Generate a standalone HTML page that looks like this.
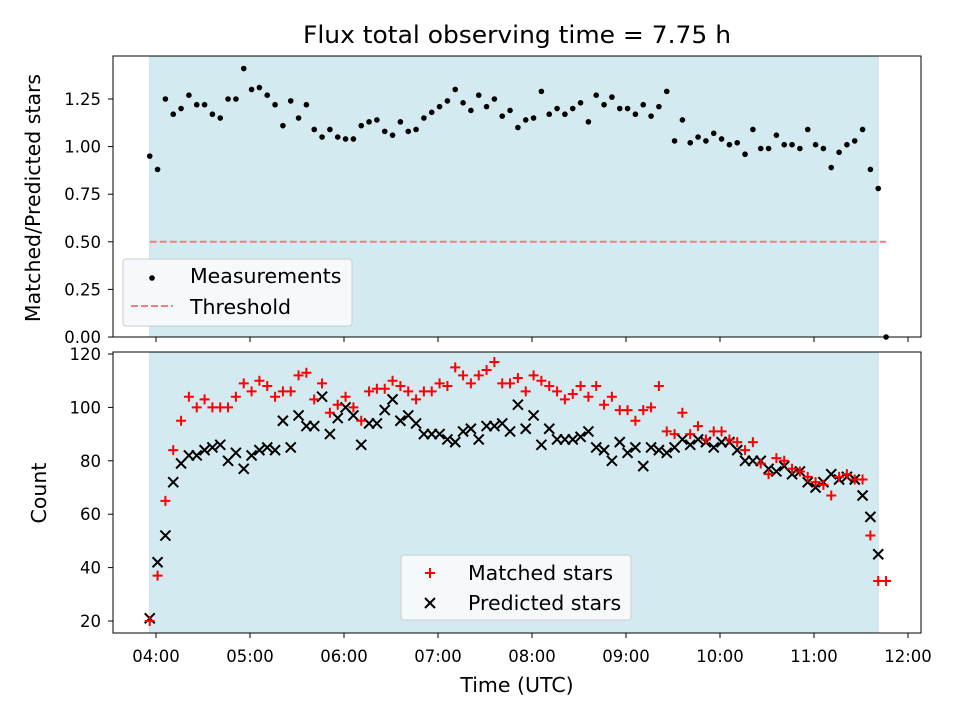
<!DOCTYPE html>
<html><head><meta charset="utf-8"><style>
body{margin:0;background:#fff;}
svg{display:block;font-family:"DejaVu Sans","Liberation Sans",sans-serif;}
</style></head><body>
<svg id="chart" width="960" height="720" viewBox="0 0 960 720">
<text x="517" y="43" font-size="24" text-anchor="middle" textLength="428" lengthAdjust="spacingAndGlyphs">Flux total observing time = 7.75 h</text>
<g id="top"></g><g id="bot"></g>
</svg>
<script>
// time of each sample, minutes after 04:00 (5-minute cadence starting 03:56)
const startMinutes = -4;
const stepMinutes = 5;
const ratioValues = [0.95,0.88,1.25,1.17,1.20,1.27,1.22,1.22,1.17,1.15,1.25,1.25,1.41,1.30,1.31,1.27,1.22,1.11,1.24,1.15,1.22,1.09,1.05,1.09,1.05,1.04,1.04,1.11,1.13,1.14,1.08,1.06,1.13,1.08,1.09,1.15,1.18,1.21,1.24,1.30,1.23,1.19,1.27,1.21,1.25,1.16,1.19,1.10,1.14,1.15,1.29,
1.17,1.20,1.17,1.20,1.23,1.13,1.27,1.22,1.26,1.20,1.20,1.17,1.22,1.16,1.21,1.29,1.03,1.14,1.02,1.05,1.03,1.07,1.04,1.01,1.02,0.96,1.09,0.99,0.99,1.06,1.01,1.01,0.99,1.09,1.01,0.99,0.89,0.97,1.01,1.03,1.09,0.88,0.78,0.00];
const matchedValues = [20,37,65,84,95,104,100,103,100,100,100,104,109,106,110,108,104,106,106,112,113,103,109,98,101,104,100,95,106,107,107,110,108,106,103,106,106,109,108,115,112,109,112,114,117,109,109,111,106,112,110,108,106,103,105,108,104,108,101,104,99,99,95,99,100,108,91,90,98,90,93,88,91,91,88,87,84,87,79,75,81,80,77,76,74,72,71,67,74,75,73,73,52,35,35];
const predictedValues = [21,42,52,72,79,82,82,84,85,86,80,83,77,82,84,85,84,95,85,97,93,93,104,90,96,100,97,86,94,94,99,103,95,97,94,90,90,90,88,87,91,92,88,93,93,94,91,101,92,97,86,92,88,88,88,89,91,85,84,80,87,83,85,78,85,84,83,85,88,86,88,87,85,87,87,84,80,80,80,77,76,78,75,76,72,70,72,75,73,74,73,67,59,45];
const ratioTicks = [0,0.25,0.5,0.75,1.0,1.25];
const countTicks = [20,40,60,80,100,120];
const timeTickLabels = ["04:00","05:00","06:00","07:00","08:00","09:00","10:00","11:00","12:00"];
const thresholdValue = 0.5;

const NS="http://www.w3.org/2000/svg";
const svg=document.getElementById('chart');
function mk(tag,attrs,parent){const e=document.createElementNS(NS,tag);for(const k in attrs)e.setAttribute(k,attrs[k]);(parent||svg).appendChild(e);return e;}
const L=113,R=921;
const TICK=16.5, LAB=20.5;
const xScale=m=>156+m*94/60;
const tTop=56,bTop=337, tBot=352,bBot=633;
const yTop=v=>337-v*190.4;
const yBot=v=>621-(v-20)*2.67;
const tm=i=>startMinutes+i*stepMinutes;
const shadeStart=xScale(startMinutes), shadeEnd=xScale(startMinutes+(ratioValues.length-2)*stepMinutes);

function axes(g,top,bot,name){
  const s=mk('rect',{x:shadeStart,y:top,width:shadeEnd-shadeStart,height:bot-top,fill:'#d4eaf1',stroke:'#c3e0ea','stroke-width':1},g);
  
  
  timeTickLabels.forEach((lab,i)=>{
    const x=xScale(i*60);
    const t=mk('line',{x1:x,x2:x,y1:bot,y2:bot+5,stroke:'#000','stroke-width':1},g);
    
    
  });
}
function frame(g,top,bot,name){
  const f=mk('rect',{x:L,y:top,width:R-L,height:bot-top,fill:'none',stroke:'#000','stroke-width':1},g);
  
  
}
// TOP
const gt=document.getElementById('top');


axes(gt,tTop,bTop,'ratio-panel');
ratioTicks.forEach(v=>{
  const y=yTop(v);
  const l=mk('line',{x1:L-5,x2:L,y1:y,y2:y,stroke:'#000'},gt);
  
  
  const t=mk('text',{x:L-12,y:y+6,'font-size':TICK,'text-anchor':'end'},gt);
  t.textContent=v.toFixed(2);
  
  
});
const th=mk('line',{x1:shadeStart,x2:xScale(tm(ratioValues.length-1)),y1:yTop(thresholdValue),y2:yTop(thresholdValue),stroke:'#f08080','stroke-width':2,'stroke-dasharray':'7,3'},gt);


ratioValues.forEach((v,i)=>{
  const c=mk('circle',{cx:xScale(tm(i)),cy:yTop(v),r:2.8,fill:'#000'},gt);
  
  
});
frame(gt,tTop,bTop,'ratio-panel');
const ylt=mk('text',{transform:'translate(40,198) rotate(-90)','font-size':LAB,'text-anchor':'middle'},gt);
ylt.textContent='Matched/Predicted stars';


// legend top
const lg=mk('g',{},gt);


mk('rect',{x:123,y:259,width:229,height:67,rx:3,fill:'#f6f9fb',stroke:'#ccc','stroke-width':1},lg);
mk('circle',{cx:152,cy:278,r:2.8,fill:'#000'},lg);
mk('line',{x1:131,x2:173,y1:306,y2:306,stroke:'#f08080','stroke-width':2,'stroke-dasharray':'7,3'},lg);
const l1=mk('text',{x:190,y:283,'font-size':LAB},lg);l1.textContent='Measurements';


const l2=mk('text',{x:190,y:314,'font-size':LAB},lg);l2.textContent='Threshold';



// BOTTOM
const gb=document.getElementById('bot');


axes(gb,tBot,bBot,'count-panel');
countTicks.forEach(v=>{
  const y=yBot(v);
  const l=mk('line',{x1:L-5,x2:L,y1:y,y2:y,stroke:'#000'},gb);
  
  
  const t=mk('text',{x:L-12,y:y+6,'font-size':TICK,'text-anchor':'end'},gb);
  t.textContent=v;
  
  
});
timeTickLabels.forEach((lab,i)=>{
  const t=mk('text',{x:xScale(i*60),y:662,'font-size':TICK,'text-anchor':'middle'},gb);
  t.textContent=lab;
  
  
});
function plus(x,y,g,col){const p=mk('path',{d:`M${x-5},${y}H${x+5}M${x},${y-5}V${y+5}`,stroke:col,'stroke-width':2,fill:'none'},g);return p;}
function cross(x,y,g){return mk('path',{d:`M${x-5},${y-5}L${x+5},${y+5}M${x-5},${y+5}L${x+5},${y-5}`,stroke:'#000','stroke-width':2,fill:'none'},g);}
predictedValues.forEach((v,i)=>{
  const p=cross(xScale(tm(i)),yBot(v),gb);
  
  
});
matchedValues.forEach((v,i)=>{
  const p=plus(xScale(tm(i)),yBot(v),gb,'#f00');
  
  
});
frame(gb,tBot,bBot,'count-panel');
const ylb=mk('text',{transform:'translate(46,493) rotate(-90)','font-size':LAB,'text-anchor':'middle'},gb);
ylb.textContent='Count';


const xl=mk('text',{x:517,y:692,'font-size':LAB,'text-anchor':'middle'},gb);
xl.textContent='Time (UTC)';


const lb=mk('g',{},gb);


mk('rect',{x:401,y:555,width:230,height:65,rx:3,fill:'#f6f9fb',stroke:'#ccc','stroke-width':1},lb);
plus(430,573,lb,'#f00');
cross(430,603,lb);
const m1=mk('text',{x:468,y:580,'font-size':LAB},lb);m1.textContent='Matched stars';


const m2=mk('text',{x:468,y:610,'font-size':LAB},lb);m2.textContent='Predicted stars';


</script>
</body></html>
